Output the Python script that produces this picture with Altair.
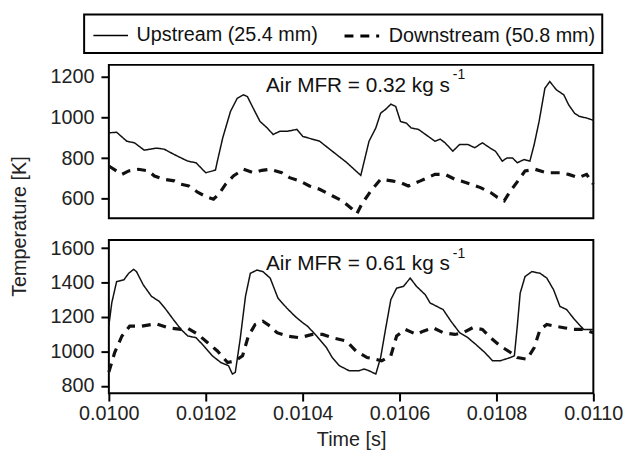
import altair as alt
import pandas as pd

FONT = "Liberation Sans"
SERIES = ["Upstream (25.4 mm)", "Downstream (50.8 mm)"]

X_DOMAIN = [0.0100, 0.0110]
X_TICKS = [0.0100, 0.0102, 0.0104, 0.0106, 0.0108, 0.0110]
TOP_Y_DOMAIN = [505, 1258]
TOP_Y_TICKS = [600, 800, 1000, 1200]
BOT_Y_DOMAIN = [758, 1648]
BOT_Y_TICKS = [800, 1000, 1200, 1400, 1600]

# ---- top panel (Air MFR = 0.32 kg/s) ----
top_up_t = [0.010000, 0.010016, 0.010037, 0.010053, 0.010073, 0.010098, 0.010114, 0.010133, 0.010149, 0.010163,
            0.010180, 0.010200, 0.010220, 0.010224, 0.010235, 0.010251, 0.010265, 0.010278, 0.010286, 0.010298,
            0.010312, 0.010327, 0.010339, 0.010353, 0.010369, 0.010388, 0.010400, 0.010420, 0.010435, 0.010461,
            0.010490, 0.010520, 0.010537, 0.010551, 0.010561, 0.010571, 0.010582, 0.010592, 0.010602, 0.010614,
            0.010624, 0.010639, 0.010659, 0.010673, 0.010684, 0.010694, 0.010710, 0.010724, 0.010741, 0.010755,
            0.010771, 0.010786, 0.010798, 0.010812, 0.010822, 0.010833, 0.010843, 0.010857, 0.010869, 0.010878,
            0.010888, 0.010900, 0.010910, 0.010924, 0.010939, 0.010949, 0.010961, 0.010971, 0.010986, 0.010996,
            0.011000]
top_up_T = [924, 927, 883, 875, 839, 849, 844, 820, 801, 785,
            777, 728, 741, 785, 899, 1029, 1094, 1111, 1102, 1045,
            980, 948, 916, 932, 932, 941, 907, 893, 883, 834,
            780, 715, 883, 948, 1021, 1039, 1065, 1054, 980, 972,
            948, 941, 907, 883, 893, 875, 834, 867, 867, 851,
            875, 851, 834, 785, 801, 801, 777, 793, 785, 868,
            980, 1143, 1176, 1135, 1111, 1062, 1021, 1005, 997, 989,
            985]

top_dn_t = [0.010000, 0.010027, 0.010041, 0.010061, 0.010082, 0.010094, 0.010114, 0.010135, 0.010149, 0.010165,
            0.010184, 0.010204, 0.010216, 0.010227, 0.010241, 0.010257, 0.010278, 0.010298, 0.010316, 0.010333,
            0.010357, 0.010373, 0.010394, 0.010414, 0.010435, 0.010461, 0.010482, 0.010502, 0.010512, 0.010522,
            0.010541, 0.010561, 0.010584, 0.010602, 0.010618, 0.010643, 0.010673, 0.010694, 0.010714, 0.010727,
            0.010747, 0.010767, 0.010788, 0.010802, 0.010816, 0.010829, 0.010847, 0.010859, 0.010880, 0.010904,
            0.010931, 0.010949, 0.010969, 0.010986, 0.011000]
top_dn_T = [761, 720, 737, 745, 737, 712, 696, 688, 672, 663,
            631, 607, 598, 623, 672, 712, 745, 728, 740, 745,
            728, 704, 688, 663, 647, 615, 590, 550, 527, 574,
            639, 696, 688, 680, 663, 688, 720, 720, 696, 688,
            672, 655, 631, 607, 590, 639, 696, 737, 745, 728,
            728, 720, 704, 720, 672]

# ---- bottom panel (Air MFR = 0.61 kg/s) ----
bot_up_t = [0.010000, 0.010006, 0.010016, 0.010031, 0.010041, 0.010051, 0.010057, 0.010071, 0.010088, 0.010104,
            0.010118, 0.010133, 0.010149, 0.010163, 0.010180, 0.010196, 0.010214, 0.010231, 0.010247, 0.010255,
            0.010261, 0.010271, 0.010282, 0.010292, 0.010306, 0.010318, 0.010333, 0.010349, 0.010367, 0.010384,
            0.010400, 0.010410, 0.010429, 0.010449, 0.010461, 0.010476, 0.010496, 0.010516, 0.010527, 0.010537,
            0.010551, 0.010561, 0.010571, 0.010582, 0.010594, 0.010608, 0.010622, 0.010635, 0.010653, 0.010663,
            0.010690, 0.010706, 0.010724, 0.010741, 0.010757, 0.010776, 0.010792, 0.010808, 0.010829, 0.010837,
            0.010843, 0.010849, 0.010859, 0.010873, 0.010890, 0.010904, 0.010918, 0.010931, 0.010945, 0.010961,
            0.010980, 0.011000]
bot_up_T = [1150, 1282, 1406, 1416, 1454, 1477, 1464, 1387, 1320, 1291,
            1243, 1186, 1128, 1090, 1080, 1032, 974, 936, 917, 869,
            879, 1071, 1320, 1454, 1473, 1464, 1426, 1310, 1253, 1205,
            1167, 1147, 1090, 1023, 965, 917, 888, 888, 898, 888,
            869, 965, 1128, 1301, 1368, 1378, 1426, 1378, 1330, 1282,
            1243, 1176, 1109, 1080, 1042, 994, 946, 946, 965, 975,
            1147, 1339, 1435, 1464, 1454, 1426, 1358, 1262, 1243, 1186,
            1128, 1128]

bot_dn_t = [0.010000, 0.010012, 0.010027, 0.010043, 0.010067, 0.010098, 0.010122, 0.010149, 0.010163, 0.010184,
            0.010204, 0.010224, 0.010245, 0.010261, 0.010276, 0.010288, 0.010302, 0.010318, 0.010333, 0.010347,
            0.010367, 0.010394, 0.010420, 0.010441, 0.010461, 0.010490, 0.010510, 0.010533, 0.010551, 0.010563,
            0.010582, 0.010594, 0.010612, 0.010635, 0.010649, 0.010669, 0.010690, 0.010714, 0.010731, 0.010751,
            0.010771, 0.010788, 0.010808, 0.010829, 0.010843, 0.010863, 0.010878, 0.010890, 0.010904, 0.010920,
            0.010939, 0.010959, 0.010980, 0.011000]
bot_dn_T = [880, 994, 1090, 1147, 1147, 1161, 1138, 1128, 1134, 1099,
            1051, 1003, 936, 946, 975, 1090, 1157, 1176, 1147, 1109,
            1090, 1080, 1099, 1099, 1080, 1061, 1003, 965, 955, 946,
            975, 1090, 1128, 1099, 1118, 1138, 1109, 1099, 1109, 1138,
            1128, 1080, 1032, 994, 965, 955, 1023, 1128, 1157, 1147,
            1138, 1128, 1128, 1109]

# annotations: main text (right end), superscript (left start)
ANNOT_TEXT = ["Air MFR = 0.32 kg s", "Air MFR = 0.61 kg s"]
ANNOT_T = [0.010704, 0.010704]
ANNOT_Y = [1127, 1473]
SUP_TEXT = ["-1", "-1"]
SUP_T = [0.010710, 0.010710]
SUP_Y = [1190, 1545]


def frame(t_up, T_up, t_dn, T_dn):
    return pd.DataFrame({
        "time": list(t_up) + list(t_dn),
        "temp": list(T_up) + list(T_dn),
        "series": [SERIES[0]] * len(t_up) + [SERIES[1]] * len(t_dn),
    })


top_df = frame(top_up_t, top_up_T, top_dn_t, top_dn_T)
bot_df = frame(bot_up_t, bot_up_T, bot_dn_t, bot_dn_T)

dash_scale = alt.Scale(domain=SERIES, range=[[1, 0], [9, 7]])
width_scale = alt.Scale(domain=SERIES, range=[1.5, 3.2])

# wide, short line symbol: layout box 25 px, drawn line ~35 px
legend = alt.Legend(
    title=None, orient="none", legendX=-25, legendY=-51, direction="horizontal",
    symbolType="M-0.89,0H1.91", symbolSize=625, symbolStrokeColor="black",
    labelFont=FONT, labelFontSize=20, labelColor="#111", labelOffset=19, labelLimit=400,
    columnPadding=19, padding=7, strokeColor="black",
)

W, H = 490, 155


def panel(df, ydom, yticks, idx, show_x, show_legend):
    xaxis = alt.Axis(values=X_TICKS, format=".4f", title="Time [s]", titlePadding=6, tickCount=20,
                     labelFlush=False, labelOverlap=False) if show_x else None
    if idx == 1:
        yaxis = alt.Axis(values=yticks, format="d", title="Temperature [K]", titleAngle=270,
                         titleAlign="center", titleBaseline="middle", titleX=-90, titleY=-14,
                         tickCount=20, labelOverlap=False, labelFlush=False)
    else:
        yaxis = alt.Axis(values=yticks, format="d", title=None, tickCount=20,
                         labelOverlap=False, labelFlush=False)
    xs = alt.Scale(domain=X_DOMAIN, nice=False, zero=False)
    ys = alt.Scale(domain=ydom, nice=False, zero=False)
    lg = legend if show_legend else None
    lines = alt.Chart(df).mark_line(color="#111", strokeCap="butt").encode(
        x=alt.X("time:Q", scale=xs, axis=xaxis),
        y=alt.Y("temp:Q", scale=ys, axis=yaxis),
        strokeDash=alt.StrokeDash("series:N", scale=dash_scale, legend=lg),
        strokeWidth=alt.StrokeWidth("series:N", scale=width_scale, legend=lg),
        detail="series:N",
    )
    ann_df = pd.DataFrame({"time": [ANNOT_T[idx]], "temp": [ANNOT_Y[idx]], "label": [ANNOT_TEXT[idx]]})
    sup_df = pd.DataFrame({"time": [SUP_T[idx]], "temp": [SUP_Y[idx]], "label": [SUP_TEXT[idx]]})
    ann = alt.Chart(ann_df).mark_text(font=FONT, fontSize=21, color="#111", align="right",
                                      baseline="alphabetic").encode(
        x=alt.X("time:Q", scale=xs, axis=xaxis),
        y=alt.Y("temp:Q", scale=ys, axis=yaxis),
        text="label:N")
    sup = alt.Chart(sup_df).mark_text(font=FONT, fontSize=14, color="#111", align="left",
                                      baseline="alphabetic").encode(
        x=alt.X("time:Q", scale=xs, axis=xaxis),
        y=alt.Y("temp:Q", scale=ys, axis=yaxis),
        text="label:N")
    return alt.layer(lines, ann, sup).properties(width=W, height=H)


top = panel(top_df, TOP_Y_DOMAIN, TOP_Y_TICKS, 0, False, True)
bot = panel(bot_df, BOT_Y_DOMAIN, BOT_Y_TICKS, 1, True, False)

chart = alt.vconcat(top, bot, spacing=22, bounds="flush").resolve_legend(
    strokeDash="independent", strokeWidth="independent"
).properties(
    padding={"left": 0, "top": 2, "right": 0, "bottom": 0}
).configure_view(
    stroke="black", strokeWidth=2
).configure_axis(
    domain=False, grid=False, tickColor="black", tickWidth=2, tickSize=8,
    labelFont=FONT, labelFontSize=20, labelColor="#222",
    titleFont=FONT, titleFontSize=20, titleFontWeight="normal", titleColor="#222",
).configure_axisX(
    labelPadding=3
).configure_axisY(
    labelPadding=7
).configure_legend(
    strokeWidth=2
)

chart.save("out.html", embed_options={"renderer": "svg", "actions": False})
